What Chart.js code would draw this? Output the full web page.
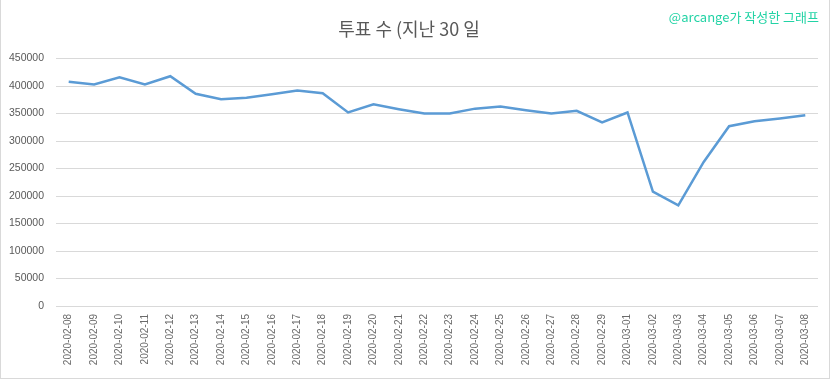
<!DOCTYPE html>
<html>
<head>
<meta charset="utf-8">
<script src="https://cdn.jsdelivr.net/npm/chart.js@4"></script>
<style>
  html, body { margin: 0; padding: 0; background: #fff; }
  #wrap { position: relative; width: 832px; height: 379px; }
  #frame { position: absolute; left: 0; top: 0; width: 830px; height: 379px; box-sizing: border-box;
           border: 1px solid #d9d9d9; border-top: none; pointer-events: none; }
</style>
</head>
<body>
<div id="wrap">
  <canvas id="c" width="832" height="379"></canvas>
  <div id="frame"></div>
</div>
<script>
const titleText = '투표 수 (지난 30 일';
const watermarkText = '@arcange가 작성한 그래프';
const categories = [
  '2020-02-08','2020-02-09','2020-02-10','2020-02-11','2020-02-12','2020-02-13','2020-02-14',
  '2020-02-15','2020-02-16','2020-02-17','2020-02-18','2020-02-19','2020-02-20','2020-02-21',
  '2020-02-22','2020-02-23','2020-02-24','2020-02-25','2020-02-26','2020-02-27','2020-02-28',
  '2020-02-29','2020-03-01','2020-03-02','2020-03-03','2020-03-04','2020-03-05','2020-03-06',
  '2020-03-07','2020-03-08'
];
const votes = [
  408000, 403000, 416000, 403000, 418000, 386000, 376000,
  379000, 385000, 392000, 387000, 352000, 367000, 358000,
  350000, 350000, 359000, 363000, 356000, 350000, 355000,
  334000, 352000, 208000, 183000, 262000, 327000, 336000,
  341000, 347000
];
const yTicks = [0, 50000, 100000, 150000, 200000, 250000, 300000, 350000, 400000, 450000];

const watermarkPlugin = {
  id: 'watermark',
  afterDraw(chart) {
    const ctx = chart.ctx;
    ctx.save();
    ctx.font = '13px "Noto Sans CJK KR", "Noto Sans", sans-serif';
    ctx.fillStyle = '#22d3a5';
    ctx.textAlign = 'right';
    ctx.textBaseline = 'middle';
    ctx.fillText(watermarkText, 819, 17);
    ctx.restore();
  }
};

new Chart(document.getElementById('c'), {
  type: 'line',
  data: {
    labels: categories,
    datasets: [{
      label: titleText,
      data: votes,
      borderColor: '#5b9bd5',
      backgroundColor: '#5b9bd5',
      borderWidth: 2.5,
      pointRadius: 0,
      pointHoverRadius: 0,
      tension: 0,
      fill: false
    }]
  },
  options: {
    responsive: false,
    animation: false,
    devicePixelRatio: 1,
    layout: { padding: { left: 0, right: 14, top: 0, bottom: 0 } },
    plugins: {
      legend: { display: false },
      tooltip: { enabled: false },
      title: {
        display: true,
        text: titleText,
        color: '#595959',
        font: { family: '"Noto Sans CJK KR", "Noto Sans", sans-serif', size: 18, weight: 'normal', lineHeight: 1.2 },
        padding: { top: 18, bottom: 19 }
      }
    },
    scales: {
      x: {
        type: 'category',
        offset: true,
        grid: { display: false, drawTicks: false },
        border: { display: false },
        ticks: {
          autoSkip: false,
          minRotation: 90,
          maxRotation: 90,
          padding: 8,
          color: '#6a6a6a',
          font: { family: '"Liberation Sans", sans-serif', size: 10 }
        },
        afterFit(scale) { scale.height = 73; }
      },
      y: {
        min: 0,
        max: 450000,
        grid: { color: '#d9d9d9', lineWidth: 1, drawTicks: false },
        border: { display: false },
        afterBuildTicks(scale) { scale.ticks = yTicks.map(v => ({ value: v })); },
        ticks: {
          padding: 12,
          color: '#595959',
          font: { family: '"Liberation Sans", sans-serif', size: 10.5 },
          callback: v => String(v)
        },
        afterFit(scale) { scale.width = 56; }
      }
    }
  },
  plugins: [watermarkPlugin]
});
</script>
</body>
</html>
